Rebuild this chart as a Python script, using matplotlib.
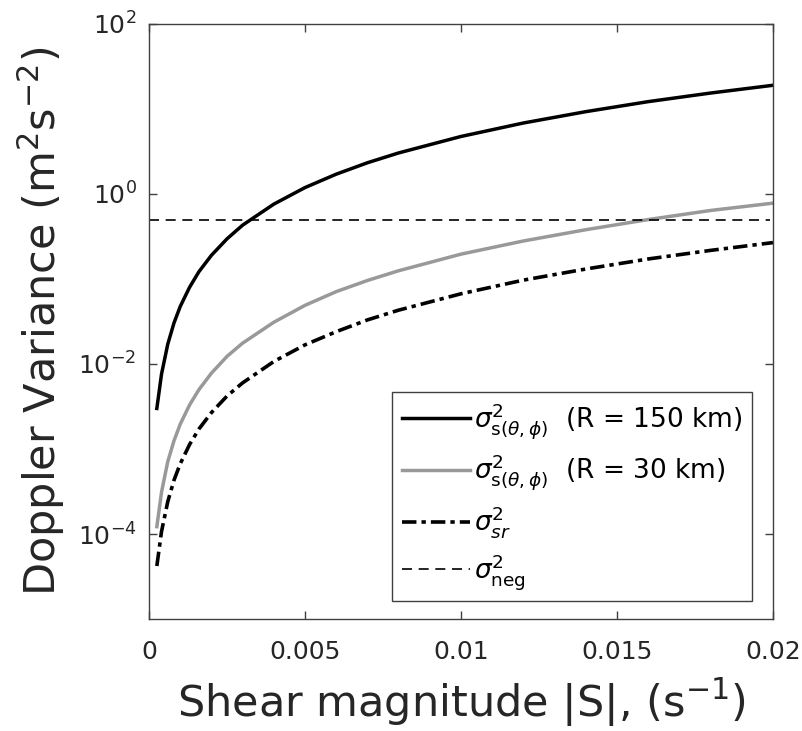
import matplotlib
matplotlib.use("Agg")
import matplotlib.pyplot as plt

# shear magnitude |S| (1/s)
shear = [0.00025, 0.0004, 0.0006, 0.0008, 0.001, 0.0013, 0.0016, 0.002, 0.0025,
         0.003, 0.004, 0.005, 0.006, 0.007, 0.008, 0.010, 0.012, 0.014, 0.016,
         0.018, 0.020]

# Doppler variance (m^2 s^-2)
var_r150 = [0.003, 0.0076, 0.0171, 0.0304, 0.0475, 0.080, 0.122, 0.19, 0.297,
            0.43, 0.76, 1.19, 1.71, 2.33, 3.04, 4.75, 6.84, 9.3, 12.2, 15.4, 19.0]
var_r30 = [1.22e-4, 3.1e-4, 7.1e-4, 1.25e-3, 1.96e-3, 3.3e-3, 5.0e-3, 7.8e-3,
           0.0123, 0.0176, 0.031, 0.049, 0.071, 0.096, 0.125, 0.196, 0.28, 0.38,
           0.50, 0.64, 0.78]
var_sr = [4.2e-5, 1.07e-4, 2.4e-4, 4.3e-4, 6.7e-4, 1.13e-3, 1.72e-3, 2.68e-3,
          4.2e-3, 6.0e-3, 0.0107, 0.0168, 0.024, 0.033, 0.043, 0.067, 0.097,
          0.131, 0.172, 0.217, 0.268]
neg_range = [0.0, 0.0199]
var_neg = [0.49, 0.49]

plt.rcParams["font.family"] = "DejaVu Sans"

fig = plt.figure(figsize=(8.03, 7.31), dpi=100)
ax = fig.add_axes([0.1856, 0.1532, 0.777, 0.814])

ax.plot(shear, var_r150, color="black", lw=2.5,
        label=r"$\sigma^2_{\mathrm{s}(\theta,\phi)}$  (R = 150 km)")
ax.plot(shear, var_r30, color="#999999", lw=2.5,
        label=r"$\sigma^2_{\mathrm{s}(\theta,\phi)}$  (R = 30 km)")
ax.plot(shear, var_sr, color="black", lw=2.6, ls=(0, (4, 1.4, 1.2, 1.4)),
        label=r"$\sigma^2_{sr}$")
ax.plot(neg_range, var_neg, color="black", lw=1.2, ls=(0, (6, 4)),
        label=r"$\sigma^2_{\mathrm{neg}}$")

ax.set_yscale("log")
ax.set_xlim(0, 0.02)
ax.set_ylim(1e-5, 1e2)
ax.set_xticks([0, 0.005, 0.01, 0.015, 0.02])
ax.set_xticklabels(["0", "0.005", "0.01", "0.015", "0.02"])
ax.set_yticks([1e-4, 1e-2, 1e0, 1e2])
ax.minorticks_off()

axis_col = "#404040"
for sp in ax.spines.values():
    sp.set_color(axis_col)
    sp.set_linewidth(1.0)
ax.tick_params(direction="in", length=6, width=1.0, color=axis_col,
               labelcolor="#262626", labelsize=18, top=True, right=True)
ax.tick_params(axis="x", pad=15)
ax.tick_params(axis="y", pad=9)

ax.set_xlabel(r"Shear magnitude |S|, (s$^{-1}$)", fontsize=31, color="#262626",
              labelpad=9)
ax.set_ylabel(r"Doppler Variance (m$^2$s$^{-2}$)", fontsize=31, color="#262626",
              labelpad=8)

leg = ax.legend(loc="lower right", bbox_to_anchor=(0.966, 0.03), borderaxespad=0,
                fontsize=19, handlelength=2.6, handletextpad=0.15,
                labelspacing=0.45, borderpad=0.35, fancybox=False, framealpha=1)
leg.get_frame().set_edgecolor(axis_col)
leg.get_frame().set_linewidth(1.0)

fig.savefig("out.png", dpi=100)
